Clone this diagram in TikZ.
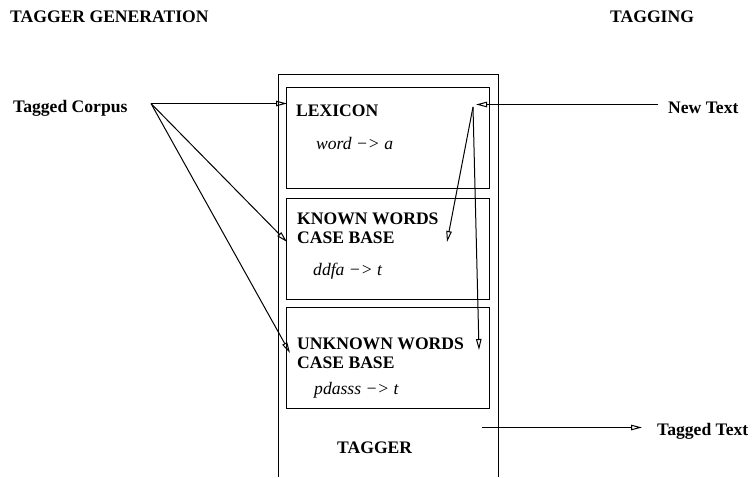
\documentclass[tikz,border=0pt]{standalone}
\usepackage{fontspec}
\setmainfont{Liberation Serif}
\usetikzlibrary{arrows.meta}
\newcommand{\figfont}{\fontsize{17.6}{19}\selectfont}
\tikzset{
  lbl/.style={font=\figfont\bfseries, inner sep=0pt, anchor=base west, align=left},
  rule/.style={font=\figfont\itshape, inner sep=0pt, anchor=base west},
  store/.style={draw, line width=1pt, minimum width=203pt, minimum height=101pt, inner sep=0pt},
  arr/.style={line width=1pt, -{Triangle[open,length=11pt,width=5.5pt,line width=1pt]}}
}
\begin{document}
\begin{tikzpicture}[x=1pt, y=-1pt]
\useasboundingbox (0,0) rectangle (753,477);
% Headings
\node[lbl] (gen) at (10,22) {TAGGER GENERATION};
\node[lbl] (tagging) at (610,22) {TAGGING};
% Tagger box, open at the bottom
\draw[line width=1pt] (278.5,477) -- (278.5,74.5) -- (498.5,74.5) -- (498.5,477);
\node[lbl] (tagger) at (337,453) {TAGGER};
% Stores
\foreach \n/\top in {lexicon/87.5, known/198.5, unknown/307.5} {
  \node[store] (\n) at (388,\top+50.5) {};
}
\node[lbl] (lextitle) at (296,116) {LEXICON};
\node[rule] (lexrule) at (316,149) {word −> a};
\node[lbl] (kntitle) at (297,243) {KNOWN WORDS\\CASE BASE};
\node[rule] (knrule) at (313,275) {ddfa −> t};
\node[lbl] (untitle) at (297,368) {UNKNOWN WORDS\\CASE BASE};
\node[rule] (unrule) at (314,394) {pdasss −> t};
% Outside texts
\node[lbl] (corpus) at (13,112) {Tagged Corpus};
\node[lbl] (newtext) at (668,113) {New Text};
\node[lbl] (taggedtext) at (657,435) {Tagged Text};
% Arrow ends
\coordinate (corpusout) at (151,103.5);
\coordinate (lexin) at (287,103.5);
\coordinate (knownin) at (287,242);
\coordinate (unknownin) at (290,353);
\coordinate (newout) at (658,104.5);
\coordinate (newin) at (476,104.5);
\coordinate (fork) at (473,107);
\coordinate (knownhit) at (447,242);
\coordinate (unknownhit) at (479,350);
\coordinate (tagout) at (482,427.5);
\coordinate (tagin) at (642,427.5);
% Generation
\foreach \t in {lexin, knownin, unknownin} {
  \draw[arr] (corpusout) -- (\t);
}
% Tagging
\draw[arr] (newout) -- (newin);
\draw[arr] (fork) -- (knownhit);
\draw[arr] (fork) -- (unknownhit);
\draw[arr] (tagout) -- (tagin);
\end{tikzpicture}
\end{document}
